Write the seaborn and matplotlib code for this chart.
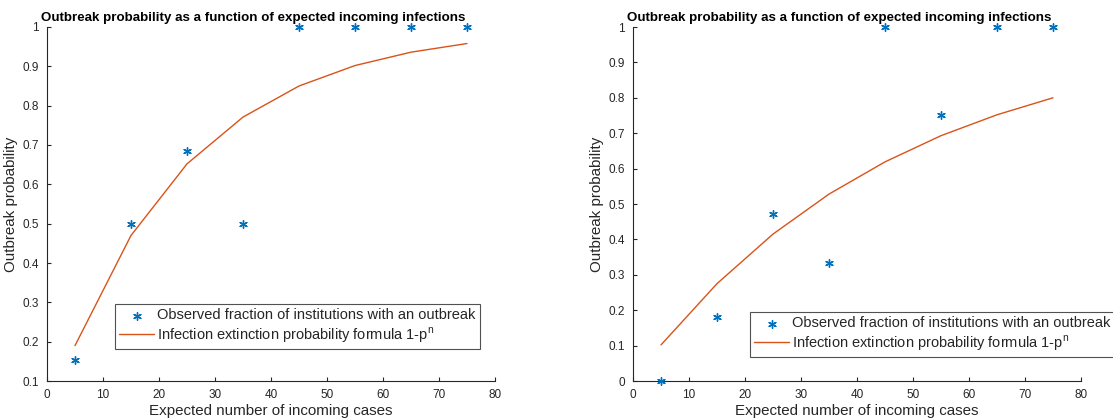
import matplotlib
matplotlib.use("Agg")
import matplotlib.pyplot as plt
import seaborn as sns
import pandas as pd
from matplotlib.ticker import FormatStrFormatter

sns.set_theme(style="white")
plt.rcParams['font.family'] = ['Liberation Sans', 'DejaVu Sans']

cases = [5, 15, 25, 35, 45, 55, 65, 75]
obs_left = [0.154, 0.5, 0.684, 0.5, 1.0, 1.0, 1.0, 1.0]
fit_left = [0.19, 0.47, 0.652, 0.771, 0.85, 0.902, 0.936, 0.958]
obs_right = [0.0, 0.18, 0.472, 0.333, 1.0, 0.75, 1.0, 1.0]
fit_right = [0.102, 0.275, 0.415, 0.528, 0.619, 0.693, 0.752, 0.80]

title = "Outbreak probability as a function of expected incoming infections"
lab_obs = "Observed fraction of institutions with an outbreak"
lab_fit = "Infection extinction probability formula 1-p$^\\mathregular{n}$"

BLUE = "#0072BD"
ORANGE = "#D95319"
AX = "#262626"

fig = plt.figure(figsize=(11.13, 4.19), dpi=100)
W, H = 1113, 419

def make_ax(x0, x1, y0, y1):
    return fig.add_axes([x0 / W, 1 - y1 / H, (x1 - x0) / W, (y1 - y0) / H])

axL = make_ax(47, 495, 27, 381)
axR = make_ax(633, 1081, 27, 381)

panels = [
    (axL, obs_left, fit_left, (0.1, 1.0), [0.1 * i for i in range(1, 11)], (115, 304)),
    (axR, obs_right, fit_right, (0.0, 1.0), [0.1 * i for i in range(0, 11)], (750, 312)),
]

for ax, obs, fit, ylim, yt, legpos in panels:
    df = pd.DataFrame({"cases": cases, "obs": obs, "fit": fit})
    sns.scatterplot(data=df, x="cases", y="obs", ax=ax, marker=(6, 2, 0),
                    s=30, color=BLUE, edgecolor=BLUE, linewidth=1.0,
                    label=lab_obs, zorder=3, clip_on=False)
    sns.lineplot(data=df, x="cases", y="fit", ax=ax, color=ORANGE,
                 linewidth=1.0, label=lab_fit)
    ax.set_xlim(0, 80)
    ax.set_ylim(*ylim)
    ax.set_xticks(range(0, 81, 10))
    ax.set_yticks(yt)
    ax.yaxis.set_major_formatter(FormatStrFormatter('%g'))
    ax.tick_params(direction='in', length=3, width=0.8, colors=AX,
                   labelsize=8.5, labelcolor=AX, pad=6,
                   bottom=True, left=True)
    for s in ['top', 'right']:
        ax.spines[s].set_visible(False)
    for s in ['left', 'bottom']:
        ax.spines[s].set_color(AX)
        ax.spines[s].set_linewidth(0.8)
    ax.set_xlabel("Expected number of incoming cases", fontsize=10.9, color=AX, labelpad=2)
    ax.set_ylabel("Outbreak probability", fontsize=10.9, color=AX)
    ax.yaxis.set_label_coords(-0.065, 0.5)
    ax.set_title(title, fontsize=9.6, fontweight='bold', color='black',
                 pad=4, x=0.46)
    leg = ax.legend(loc='upper left',
                    bbox_to_anchor=(legpos[0] / W, 1 - legpos[1] / H),
                    bbox_transform=fig.transFigure, fontsize=10.5,
                    frameon=True, fancybox=False, borderpad=0.3,
                    handlelength=2.4, handletextpad=0.2, labelspacing=0.2,
                    borderaxespad=0)
    leg.get_frame().set_edgecolor(AX)
    leg.get_frame().set_linewidth(0.8)
    ax.set_facecolor('white')

fig.savefig("out.png", dpi=100, facecolor='white')
